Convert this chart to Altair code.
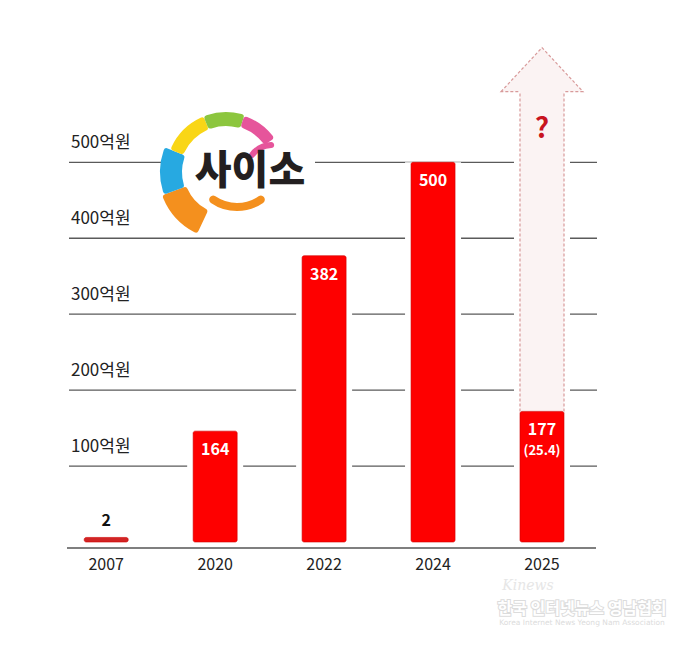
import math
import altair as alt
import pandas as pd

# ---------------- data ----------------
years = ["2007", "2020", "2022", "2024", "2025"]
bar_labels = ["2", "164", "382", "500", "177"]
sub_labels = ["", "", "", "", "(25.4)"]
drawn_heights = [6, 146, 377, 500, 172]          # heights as drawn (억원)
grid_values = [100, 200, 300, 400, 500]
grid_texts = ["100억원", "200억원", "300억원", "400억원", "500억원"]
arrow_year = ["2025"]
arrow_base = [172]
arrow_shaft_top = [593]
arrow_apex = [651]
question_level = [543]

FONT = "Noto Sans CJK KR"

df = pd.DataFrame({"year": years, "h": drawn_heights, "label": bar_labels, "sub": sub_labels})
grid = pd.DataFrame({"v": grid_values, "t": grid_texts})
arrow = pd.DataFrame({"year": arrow_year, "base": arrow_base, "top": arrow_shaft_top,
                      "apex": arrow_apex, "q": question_level})
arrow["fill_top"] = arrow["top"] + 8
arrow["head_mid"] = (arrow["top"] + arrow["apex"]) / 2
one = pd.DataFrame({"k": [0]})

xsc = alt.Scale(domain=years, range=[76.2, 556.0], paddingInner=0.596, paddingOuter=0)
ysc = alt.Scale(domain=[0, 500], range=[534, 154.3])


def X(**kw):
    return alt.X("year:N", scale=xsc, axis=None, **kw)


def Y(f):
    return alt.Y(f, scale=ysc, axis=None)


layers = []

# gridlines
layers.append(alt.Chart(grid).mark_rule(color="#5a5a5a", strokeWidth=1.3).encode(
    y=Y("v:Q"), x=alt.value(61), x2=alt.value(589)))
# baseline
layers.append(alt.Chart(one).mark_rule(color="#555555", strokeWidth=1.5).encode(
    y=alt.value(540), x=alt.value(59), x2=alt.value(588)))
# white halos around bars (gaps in gridlines)
layers.append(alt.Chart(df).mark_bar(width=56, color="white").encode(
    x=X(), y=Y("h:Q"), y2=alt.datum(0)))
layers.append(alt.Chart(arrow).mark_bar(width=56, color="white").encode(
    x=X(), y=Y("top:Q"), y2=alt.datum(0)))

ARROW_FILL = "#fbf3f3"
ARROW_EDGE = "#d89a9a"
# arrow head (dotted-looking)
tri = "M-1,0.537L0,-0.537L1,0.537Z"
layers.append(alt.Chart(arrow).mark_point(
    shape=tri, size=6724, filled=True, fill=ARROW_FILL, fillOpacity=1,
    stroke=ARROW_EDGE, strokeOpacity=1, strokeWidth=1.2, strokeDash=[3, 2], opacity=1
).encode(x=X(), y=Y("head_mid:Q")))
# arrow shaft
layers.append(alt.Chart(arrow).mark_bar(color=ARROW_FILL).encode(
    x=X(), y=Y("base:Q"), y2="fill_top:Q"))
for bp in (0, 1):
    layers.append(alt.Chart(arrow).mark_rule(color=ARROW_EDGE, strokeWidth=1.2, strokeDash=[3, 2]).encode(
        x=X(bandPosition=bp), y=Y("base:Q"), y2="top:Q"))
layers.append(alt.Chart(arrow).mark_text(text="?", fontSize=28, fontWeight="bold", font=FONT,
                                         color="#c8141e", baseline="middle").encode(
    x=X(), y=Y("q:Q")))

# red bars
layers.append(alt.Chart(df).mark_bar(cornerRadius=2, stroke="#d00000", strokeWidth=0.6).encode(
    x=X(), y=Y("h:Q"), y2=alt.datum(0),
    color=alt.condition(alt.datum.year == "2007", alt.value("#d12424"), alt.value("#fe0000"))))

# labels
layers.append(alt.Chart(df).transform_filter(alt.datum.year != "2007").mark_text(
    color="white", fontSize=16, fontWeight="bold", font=FONT, baseline="middle", dy=19).encode(
    x=X(), y=Y("h:Q"), text="label:N"))
layers.append(alt.Chart(df).transform_filter(alt.datum.year == "2007").mark_text(
    color="#111111", fontSize=16, fontWeight="bold", font=FONT, baseline="middle", dy=-16).encode(
    x=X(), y=Y("h:Q"), text="label:N"))
layers.append(alt.Chart(df).transform_filter(alt.datum.sub != "").mark_text(
    color="white", fontSize=13, fontWeight="bold", font=FONT, baseline="middle", dy=40).encode(
    x=X(), y=Y("h:Q"), text="sub:N"))

# year labels
layers.append(alt.Chart(df).mark_text(color="#222222", fontSize=16, font=FONT, baseline="middle").encode(
    x=X(), y=alt.value(557), text="year:N"))
# y labels
layers.append(alt.Chart(grid).mark_text(color="#222222", fontSize=17, font=FONT, align="left",
                                        baseline="middle", dy=-19).encode(
    y=Y("v:Q"), x=alt.value(63), text="t:N"))

# ---------------- logo (decoration) ----------------
layers.append(alt.Chart(one).mark_rect(color="white").encode(
    x=alt.value(155), x2=alt.value(307), y=alt.value(92), y2=alt.value(225)))


def deg(a):
    return a * math.pi / 180


ring = [
    (205, 250, 42, 68, "#f4901e"),
    (250, 292, 44, 66, "#27a9e1"),
    (292, 338, 46, 60, "#f9d616"),
    (338, 378, 46, 60, "#8cc63e"),
    (378, 415, 47, 59, "#e6559b"),
]
for t0, t1, r2, r, c in ring:
    layers.append(alt.Chart(one).mark_arc(theta=deg(t0), theta2=deg(t1), radius=r, radius2=r2,
                                          color=c, cornerRadius=3).encode(
        x=alt.value(218), y=alt.value(164)))
layers.append(alt.Chart(one).mark_arc(theta=deg(140), theta2=deg(220), radius=46, radius2=38,
                                      color="#f4901e", cornerRadius=4).encode(
    x=alt.value(229), y=alt.value(157)))
layers.append(alt.Chart(one).mark_arc(theta=deg(300), theta2=deg(365), radius=28, radius2=22,
                                      color="#e6559b", cornerRadius=3).encode(
    x=alt.value(264), y=alt.value(162)))
layers.append(alt.Chart(one).mark_text(text="사이소", fontSize=40, fontWeight=900, font=FONT,
                                       color="#231f20", baseline="middle").encode(
    x=alt.value(242), y=alt.value(164)))

# ---------------- watermark ----------------
layers.append(alt.Chart(one).mark_text(text="Kinews", fontSize=14, fontStyle="italic",
                                       font="DejaVu Serif", color="#e6e6e6").encode(
    x=alt.value(520), y=alt.value(578)))
layers.append(alt.Chart(one).mark_text(text="한국 인터넷뉴스 영남협회", fontSize=16, fontWeight="bold",
                                       font=FONT, color="#dcdcdc", stroke="#dcdcdc",
                                       strokeWidth=2).encode(
    x=alt.value(574), y=alt.value(601)))
layers.append(alt.Chart(one).mark_text(text="한국 인터넷뉴스 영남협회", fontSize=16, fontWeight="bold",
                                       font=FONT, color="white").encode(
    x=alt.value(574), y=alt.value(601)))
layers.append(alt.Chart(one).mark_text(text="Korea Internet News Yeong Nam Association", fontSize=7.5,
                                       font="DejaVu Sans", color="#dcdcdc").encode(
    x=alt.value(574), y=alt.value(615)))

chart = alt.layer(*layers).properties(
    width=664, height=630, autosize=alt.AutoSizeParams(type="none"), padding=0
).configure_view(stroke=None)

chart.save("out.html", embed_options={"renderer": "svg", "actions": False})
